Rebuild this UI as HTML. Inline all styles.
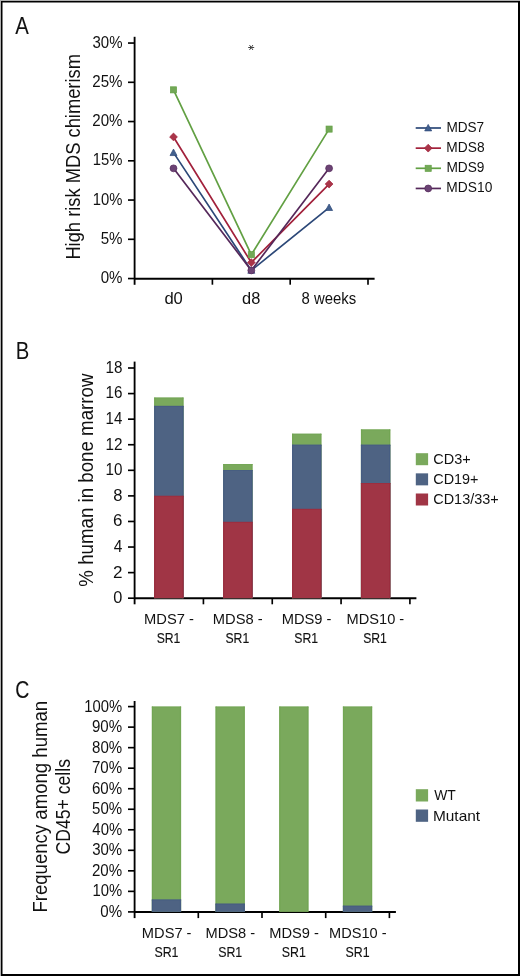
<!DOCTYPE html>
<html><head><meta charset="utf-8"><style>
html,body{margin:0;padding:0;background:#fff;}
svg{display:block;font-family:"Liberation Sans", sans-serif;will-change:transform;}
text{fill:#111;}
</style></head><body>
<svg width="520" height="976" viewBox="0 0 520 976">
<rect x="0.00" y="0.00" width="520.00" height="976.00" fill="#b0b0b0"/>
<rect x="1.00" y="1.00" width="519.00" height="975.00" fill="#000"/>
<rect x="2.50" y="2.50" width="515.50" height="971.50" fill="#fff"/>
<text x="15.16" y="34.40" font-size="23.7" textLength="13.58" lengthAdjust="spacingAndGlyphs" stroke="#111" stroke-width="0.05">A</text>
<line x1="134.60" y1="36.80" x2="134.60" y2="284.80" stroke="#000" stroke-width="1.85" stroke-linecap="butt"/>
<line x1="128.00" y1="278.55" x2="134.60" y2="278.55" stroke="#000" stroke-width="1.65" stroke-linecap="butt"/>
<text x="100.71" y="283.15" font-size="15.8" textLength="21.82" lengthAdjust="spacingAndGlyphs">0%</text>
<line x1="128.00" y1="239.30" x2="134.60" y2="239.30" stroke="#000" stroke-width="1.65" stroke-linecap="butt"/>
<text x="100.70" y="243.90" font-size="15.8" textLength="21.84" lengthAdjust="spacingAndGlyphs">5%</text>
<line x1="128.00" y1="200.05" x2="134.60" y2="200.05" stroke="#000" stroke-width="1.65" stroke-linecap="butt"/>
<text x="92.87" y="204.65" font-size="15.8" textLength="29.65" lengthAdjust="spacingAndGlyphs">10%</text>
<line x1="128.00" y1="160.80" x2="134.60" y2="160.80" stroke="#000" stroke-width="1.65" stroke-linecap="butt"/>
<text x="92.87" y="165.40" font-size="15.8" textLength="29.65" lengthAdjust="spacingAndGlyphs">15%</text>
<line x1="128.00" y1="121.55" x2="134.60" y2="121.55" stroke="#000" stroke-width="1.65" stroke-linecap="butt"/>
<text x="92.35" y="126.15" font-size="15.8" textLength="30.19" lengthAdjust="spacingAndGlyphs">20%</text>
<line x1="128.00" y1="82.30" x2="134.60" y2="82.30" stroke="#000" stroke-width="1.65" stroke-linecap="butt"/>
<text x="92.35" y="86.90" font-size="15.8" textLength="30.19" lengthAdjust="spacingAndGlyphs">25%</text>
<line x1="128.00" y1="43.05" x2="134.60" y2="43.05" stroke="#000" stroke-width="1.65" stroke-linecap="butt"/>
<text x="92.53" y="47.65" font-size="15.8" textLength="30.00" lengthAdjust="spacingAndGlyphs">30%</text>
<line x1="134.60" y1="278.70" x2="374.60" y2="278.70" stroke="#000" stroke-width="2.0" stroke-linecap="butt"/>
<line x1="212.40" y1="278.55" x2="212.40" y2="284.70" stroke="#000" stroke-width="1.65" stroke-linecap="butt"/>
<line x1="290.20" y1="278.55" x2="290.20" y2="284.70" stroke="#000" stroke-width="1.65" stroke-linecap="butt"/>
<line x1="368.00" y1="278.55" x2="368.00" y2="284.70" stroke="#000" stroke-width="1.65" stroke-linecap="butt"/>
<text x="164.40" y="304.20" font-size="16" textLength="18.45" lengthAdjust="spacingAndGlyphs">d0</text>
<text x="242.11" y="304.20" font-size="16" textLength="18.20" lengthAdjust="spacingAndGlyphs">d8</text>
<text x="301.46" y="304.20" font-size="16" textLength="54.68" lengthAdjust="spacingAndGlyphs">8 weeks</text>
<text transform="translate(79.80,259.60) rotate(-90)" x="0" y="0" font-size="19.5" textLength="205.51" lengthAdjust="spacingAndGlyphs">High risk MDS chimerism</text>
<line x1="248.20" y1="47.50" x2="254.20" y2="47.50" stroke="#444" stroke-width="1.0" stroke-linecap="butt"/>
<line x1="249.48" y1="45.04" x2="252.92" y2="49.96" stroke="#444" stroke-width="1.0" stroke-linecap="butt"/>
<line x1="249.48" y1="49.96" x2="252.92" y2="45.04" stroke="#444" stroke-width="1.0" stroke-linecap="butt"/>
<polyline points="173.50,152.65 251.30,270.40 329.10,207.60" fill="none" stroke="#2C4878" stroke-width="1.7" stroke-linejoin="round"/>
<polygon points="173.50,149.05 177.00,155.55 170.00,155.55" fill="#42608E" stroke="#2C4878" stroke-width="0.7" stroke-linejoin="miter"/>
<polygon points="251.30,266.80 254.80,273.30 247.80,273.30" fill="#42608E" stroke="#2C4878" stroke-width="0.7" stroke-linejoin="miter"/>
<polygon points="329.10,204.00 332.60,210.50 325.60,210.50" fill="#42608E" stroke="#2C4878" stroke-width="0.7" stroke-linejoin="miter"/>
<polyline points="173.50,136.95 251.30,262.55 329.10,184.05" fill="none" stroke="#A2213B" stroke-width="1.7" stroke-linejoin="round"/>
<polygon points="173.50,133.05 177.40,136.95 173.50,140.85 169.60,136.95" fill="#A93549" stroke="#A2213B" stroke-width="0.7" stroke-linejoin="miter"/>
<polygon points="251.30,258.65 255.20,262.55 251.30,266.45 247.40,262.55" fill="#A93549" stroke="#A2213B" stroke-width="0.7" stroke-linejoin="miter"/>
<polygon points="329.10,180.15 333.00,184.05 329.10,187.95 325.20,184.05" fill="#A93549" stroke="#A2213B" stroke-width="0.7" stroke-linejoin="miter"/>
<polyline points="173.50,89.85 251.30,254.70 329.10,129.10" fill="none" stroke="#62A043" stroke-width="1.7" stroke-linejoin="round"/>
<rect x="170.45" y="86.80" width="6.1" height="6.1" fill="#73A857" stroke="#62A043" stroke-width="0.7" stroke-linejoin="miter"/>
<rect x="248.25" y="251.65" width="6.1" height="6.1" fill="#73A857" stroke="#62A043" stroke-width="0.7" stroke-linejoin="miter"/>
<rect x="326.05" y="126.05" width="6.1" height="6.1" fill="#73A857" stroke="#62A043" stroke-width="0.7" stroke-linejoin="miter"/>
<polyline points="173.50,168.35 251.30,270.40 329.10,168.35" fill="none" stroke="#55285A" stroke-width="1.7" stroke-linejoin="round"/>
<circle cx="173.50" cy="168.35" r="3.45" fill="#6B4374" stroke="#55285A" stroke-width="0.7" stroke-linejoin="miter"/>
<circle cx="251.30" cy="270.40" r="3.45" fill="#6B4374" stroke="#55285A" stroke-width="0.7" stroke-linejoin="miter"/>
<circle cx="329.10" cy="168.35" r="3.45" fill="#6B4374" stroke="#55285A" stroke-width="0.7" stroke-linejoin="miter"/>
<line x1="415.70" y1="128.00" x2="441.00" y2="128.00" stroke="#2C4878" stroke-width="1.7" stroke-linecap="butt"/>
<polygon points="428.20,124.40 431.70,130.90 424.70,130.90" fill="#42608E" stroke="#2C4878" stroke-width="0.7" stroke-linejoin="miter"/>
<text x="446.38" y="131.80" font-size="15" textLength="37.80" lengthAdjust="spacingAndGlyphs">MDS7</text>
<line x1="415.70" y1="148.15" x2="441.00" y2="148.15" stroke="#A2213B" stroke-width="1.7" stroke-linecap="butt"/>
<polygon points="428.20,144.25 432.10,148.15 428.20,152.05 424.30,148.15" fill="#A93549" stroke="#A2213B" stroke-width="0.7" stroke-linejoin="miter"/>
<text x="446.37" y="151.80" font-size="15" textLength="38.22" lengthAdjust="spacingAndGlyphs">MDS8</text>
<line x1="415.70" y1="168.30" x2="441.00" y2="168.30" stroke="#62A043" stroke-width="1.7" stroke-linecap="butt"/>
<rect x="425.15" y="165.25" width="6.1" height="6.1" fill="#73A857" stroke="#62A043" stroke-width="0.7" stroke-linejoin="miter"/>
<text x="446.38" y="171.90" font-size="15" textLength="38.07" lengthAdjust="spacingAndGlyphs">MDS9</text>
<line x1="415.70" y1="188.45" x2="441.00" y2="188.45" stroke="#55285A" stroke-width="1.7" stroke-linecap="butt"/>
<circle cx="428.20" cy="188.45" r="3.45" fill="#6B4374" stroke="#55285A" stroke-width="0.7" stroke-linejoin="miter"/>
<text x="446.37" y="192.10" font-size="15" textLength="45.98" lengthAdjust="spacingAndGlyphs">MDS10</text>
<text x="15.64" y="358.80" font-size="23.1" textLength="13.54" lengthAdjust="spacingAndGlyphs" stroke="#111" stroke-width="0.00">B</text>
<line x1="134.60" y1="361.60" x2="134.60" y2="604.30" stroke="#000" stroke-width="1.85" stroke-linecap="butt"/>
<line x1="128.00" y1="598.20" x2="134.60" y2="598.20" stroke="#000" stroke-width="1.65" stroke-linecap="butt"/>
<text x="113.36" y="603.10" font-size="16" textLength="9.08" lengthAdjust="spacingAndGlyphs">0</text>
<line x1="128.00" y1="572.62" x2="134.60" y2="572.62" stroke="#000" stroke-width="1.65" stroke-linecap="butt"/>
<text x="113.14" y="577.52" font-size="16" textLength="9.51" lengthAdjust="spacingAndGlyphs">2</text>
<line x1="128.00" y1="547.04" x2="134.60" y2="547.04" stroke="#000" stroke-width="1.65" stroke-linecap="butt"/>
<text x="113.64" y="551.94" font-size="16" textLength="8.61" lengthAdjust="spacingAndGlyphs">4</text>
<line x1="128.00" y1="521.47" x2="134.60" y2="521.47" stroke="#000" stroke-width="1.65" stroke-linecap="butt"/>
<text x="113.14" y="526.37" font-size="16" textLength="9.41" lengthAdjust="spacingAndGlyphs">6</text>
<line x1="128.00" y1="495.89" x2="134.60" y2="495.89" stroke="#000" stroke-width="1.65" stroke-linecap="butt"/>
<text x="113.29" y="500.79" font-size="16" textLength="9.23" lengthAdjust="spacingAndGlyphs">8</text>
<line x1="128.00" y1="470.31" x2="134.60" y2="470.31" stroke="#000" stroke-width="1.65" stroke-linecap="butt"/>
<text x="105.55" y="475.21" font-size="16" textLength="16.85" lengthAdjust="spacingAndGlyphs">10</text>
<line x1="128.00" y1="444.73" x2="134.60" y2="444.73" stroke="#000" stroke-width="1.65" stroke-linecap="butt"/>
<text x="105.54" y="449.63" font-size="16" textLength="17.03" lengthAdjust="spacingAndGlyphs">12</text>
<line x1="128.00" y1="419.16" x2="134.60" y2="419.16" stroke="#000" stroke-width="1.65" stroke-linecap="butt"/>
<text x="105.56" y="424.06" font-size="16" textLength="16.68" lengthAdjust="spacingAndGlyphs">14</text>
<line x1="128.00" y1="393.58" x2="134.60" y2="393.58" stroke="#000" stroke-width="1.65" stroke-linecap="butt"/>
<text x="105.54" y="398.48" font-size="16" textLength="16.93" lengthAdjust="spacingAndGlyphs">16</text>
<line x1="128.00" y1="368.00" x2="134.60" y2="368.00" stroke="#000" stroke-width="1.65" stroke-linecap="butt"/>
<text x="105.54" y="372.90" font-size="16" textLength="16.91" lengthAdjust="spacingAndGlyphs">18</text>
<line x1="134.60" y1="598.20" x2="416.40" y2="598.20" stroke="#000" stroke-width="2.0" stroke-linecap="butt"/>
<line x1="203.42" y1="598.20" x2="203.42" y2="604.30" stroke="#000" stroke-width="1.65" stroke-linecap="butt"/>
<line x1="272.25" y1="598.20" x2="272.25" y2="604.30" stroke="#000" stroke-width="1.65" stroke-linecap="butt"/>
<line x1="341.07" y1="598.20" x2="341.07" y2="604.30" stroke="#000" stroke-width="1.65" stroke-linecap="butt"/>
<line x1="409.90" y1="598.20" x2="409.90" y2="604.30" stroke="#000" stroke-width="1.65" stroke-linecap="butt"/>
<rect x="154.10" y="397.60" width="29.50" height="200.60" fill="#7AA95C"/>
<rect x="154.40" y="397.60" width="1.00" height="200.60" fill="#72A553"/>
<rect x="182.30" y="397.60" width="1.00" height="200.60" fill="#72A553"/>
<rect x="154.10" y="397.60" width="29.50" height="0.80" fill="#72A553"/>
<rect x="154.10" y="405.90" width="29.50" height="192.30" fill="#4E6383"/>
<rect x="154.40" y="405.90" width="1.00" height="192.30" fill="#465C82"/>
<rect x="182.30" y="405.90" width="1.00" height="192.30" fill="#465C82"/>
<rect x="154.10" y="405.90" width="29.50" height="0.80" fill="#465C82"/>
<rect x="154.10" y="495.85" width="29.50" height="102.35" fill="#A03545"/>
<rect x="154.40" y="495.85" width="1.00" height="102.35" fill="#9B2D3E"/>
<rect x="182.30" y="495.85" width="1.00" height="102.35" fill="#9B2D3E"/>
<rect x="154.10" y="495.85" width="29.50" height="0.80" fill="#9B2D3E"/>
<rect x="223.10" y="464.10" width="29.50" height="134.10" fill="#7AA95C"/>
<rect x="223.40" y="464.10" width="1.00" height="134.10" fill="#72A553"/>
<rect x="251.30" y="464.10" width="1.00" height="134.10" fill="#72A553"/>
<rect x="223.10" y="464.10" width="29.50" height="0.80" fill="#72A553"/>
<rect x="223.10" y="470.10" width="29.50" height="128.10" fill="#4E6383"/>
<rect x="223.40" y="470.10" width="1.00" height="128.10" fill="#465C82"/>
<rect x="251.30" y="470.10" width="1.00" height="128.10" fill="#465C82"/>
<rect x="223.10" y="470.10" width="29.50" height="0.80" fill="#465C82"/>
<rect x="223.10" y="521.90" width="29.50" height="76.30" fill="#A03545"/>
<rect x="223.40" y="521.90" width="1.00" height="76.30" fill="#9B2D3E"/>
<rect x="251.30" y="521.90" width="1.00" height="76.30" fill="#9B2D3E"/>
<rect x="223.10" y="521.90" width="29.50" height="0.80" fill="#9B2D3E"/>
<rect x="292.00" y="433.75" width="29.50" height="164.45" fill="#7AA95C"/>
<rect x="292.30" y="433.75" width="1.00" height="164.45" fill="#72A553"/>
<rect x="320.20" y="433.75" width="1.00" height="164.45" fill="#72A553"/>
<rect x="292.00" y="433.75" width="29.50" height="0.80" fill="#72A553"/>
<rect x="292.00" y="444.75" width="29.50" height="153.45" fill="#4E6383"/>
<rect x="292.30" y="444.75" width="1.00" height="153.45" fill="#465C82"/>
<rect x="320.20" y="444.75" width="1.00" height="153.45" fill="#465C82"/>
<rect x="292.00" y="444.75" width="29.50" height="0.80" fill="#465C82"/>
<rect x="292.00" y="508.90" width="29.50" height="89.30" fill="#A03545"/>
<rect x="292.30" y="508.90" width="1.00" height="89.30" fill="#9B2D3E"/>
<rect x="320.20" y="508.90" width="1.00" height="89.30" fill="#9B2D3E"/>
<rect x="292.00" y="508.90" width="29.50" height="0.80" fill="#9B2D3E"/>
<rect x="360.90" y="429.50" width="29.50" height="168.70" fill="#7AA95C"/>
<rect x="361.20" y="429.50" width="1.00" height="168.70" fill="#72A553"/>
<rect x="389.10" y="429.50" width="1.00" height="168.70" fill="#72A553"/>
<rect x="360.90" y="429.50" width="29.50" height="0.80" fill="#72A553"/>
<rect x="360.90" y="444.75" width="29.50" height="153.45" fill="#4E6383"/>
<rect x="361.20" y="444.75" width="1.00" height="153.45" fill="#465C82"/>
<rect x="389.10" y="444.75" width="1.00" height="153.45" fill="#465C82"/>
<rect x="360.90" y="444.75" width="29.50" height="0.80" fill="#465C82"/>
<rect x="360.90" y="483.00" width="29.50" height="115.20" fill="#A03545"/>
<rect x="361.20" y="483.00" width="1.00" height="115.20" fill="#9B2D3E"/>
<rect x="389.10" y="483.00" width="1.00" height="115.20" fill="#9B2D3E"/>
<rect x="360.90" y="483.00" width="29.50" height="0.80" fill="#9B2D3E"/>
<text x="144.01" y="623.60" font-size="15.1" textLength="49.86" lengthAdjust="spacingAndGlyphs">MDS7 -</text>
<text x="156.65" y="643.30" font-size="15.1" textLength="23.76" lengthAdjust="spacingAndGlyphs" stroke="#111" stroke-width="0.16">SR1</text>
<text x="212.83" y="623.60" font-size="15.1" textLength="49.86" lengthAdjust="spacingAndGlyphs">MDS8 -</text>
<text x="225.48" y="643.30" font-size="15.1" textLength="23.76" lengthAdjust="spacingAndGlyphs" stroke="#111" stroke-width="0.16">SR1</text>
<text x="281.66" y="623.60" font-size="15.1" textLength="49.86" lengthAdjust="spacingAndGlyphs">MDS9 -</text>
<text x="294.30" y="643.30" font-size="15.1" textLength="23.76" lengthAdjust="spacingAndGlyphs" stroke="#111" stroke-width="0.16">SR1</text>
<text x="346.59" y="623.60" font-size="15.1" textLength="57.65" lengthAdjust="spacingAndGlyphs">MDS10 -</text>
<text x="363.13" y="643.30" font-size="15.1" textLength="23.76" lengthAdjust="spacingAndGlyphs" stroke="#111" stroke-width="0.16">SR1</text>
<text transform="translate(93.00,586.67) rotate(-90)" x="0" y="0" font-size="19.5" textLength="213.15" lengthAdjust="spacingAndGlyphs">% human in bone marrow</text>
<rect x="415.80" y="453.20" width="12.30" height="12.00" fill="#7AA95C"/>
<text x="433.26" y="464.00" font-size="14.8" textLength="37.44" lengthAdjust="spacingAndGlyphs">CD3+</text>
<rect x="415.80" y="473.35" width="12.30" height="12.00" fill="#4E6383"/>
<text x="433.27" y="484.10" font-size="14.8" textLength="45.24" lengthAdjust="spacingAndGlyphs">CD19+</text>
<rect x="415.80" y="493.50" width="12.30" height="12.00" fill="#A03545"/>
<text x="433.26" y="504.20" font-size="14.8" textLength="65.44" lengthAdjust="spacingAndGlyphs">CD13/33+</text>
<text x="15.21" y="698.00" font-size="23.0" textLength="14.03" lengthAdjust="spacingAndGlyphs" stroke="#111" stroke-width="0.08">C</text>
<line x1="134.60" y1="701.00" x2="134.60" y2="918.10" stroke="#000" stroke-width="1.85" stroke-linecap="butt"/>
<line x1="128.00" y1="911.90" x2="134.60" y2="911.90" stroke="#000" stroke-width="1.65" stroke-linecap="butt"/>
<text x="100.31" y="916.90" font-size="16" textLength="21.82" lengthAdjust="spacingAndGlyphs">0%</text>
<line x1="128.00" y1="891.37" x2="134.60" y2="891.37" stroke="#000" stroke-width="1.65" stroke-linecap="butt"/>
<text x="92.47" y="896.37" font-size="16" textLength="29.65" lengthAdjust="spacingAndGlyphs">10%</text>
<line x1="128.00" y1="870.84" x2="134.60" y2="870.84" stroke="#000" stroke-width="1.65" stroke-linecap="butt"/>
<text x="91.95" y="875.84" font-size="16" textLength="30.19" lengthAdjust="spacingAndGlyphs">20%</text>
<line x1="128.00" y1="850.31" x2="134.60" y2="850.31" stroke="#000" stroke-width="1.65" stroke-linecap="butt"/>
<text x="92.13" y="855.31" font-size="16" textLength="30.00" lengthAdjust="spacingAndGlyphs">30%</text>
<line x1="128.00" y1="829.78" x2="134.60" y2="829.78" stroke="#000" stroke-width="1.65" stroke-linecap="butt"/>
<text x="92.36" y="834.78" font-size="16" textLength="29.77" lengthAdjust="spacingAndGlyphs">40%</text>
<line x1="128.00" y1="809.25" x2="134.60" y2="809.25" stroke="#000" stroke-width="1.65" stroke-linecap="butt"/>
<text x="92.10" y="814.25" font-size="16" textLength="30.03" lengthAdjust="spacingAndGlyphs">50%</text>
<line x1="128.00" y1="788.72" x2="134.60" y2="788.72" stroke="#000" stroke-width="1.65" stroke-linecap="butt"/>
<text x="91.93" y="793.72" font-size="16" textLength="30.20" lengthAdjust="spacingAndGlyphs">60%</text>
<line x1="128.00" y1="768.19" x2="134.60" y2="768.19" stroke="#000" stroke-width="1.65" stroke-linecap="butt"/>
<text x="91.93" y="773.19" font-size="16" textLength="30.20" lengthAdjust="spacingAndGlyphs">70%</text>
<line x1="128.00" y1="747.66" x2="134.60" y2="747.66" stroke="#000" stroke-width="1.65" stroke-linecap="butt"/>
<text x="92.05" y="752.66" font-size="16" textLength="30.08" lengthAdjust="spacingAndGlyphs">80%</text>
<line x1="128.00" y1="727.13" x2="134.60" y2="727.13" stroke="#000" stroke-width="1.65" stroke-linecap="butt"/>
<text x="91.99" y="732.13" font-size="16" textLength="30.14" lengthAdjust="spacingAndGlyphs">90%</text>
<line x1="128.00" y1="706.60" x2="134.60" y2="706.60" stroke="#000" stroke-width="1.65" stroke-linecap="butt"/>
<text x="84.28" y="711.60" font-size="16" textLength="37.85" lengthAdjust="spacingAndGlyphs">100%</text>
<line x1="134.60" y1="911.90" x2="395.90" y2="911.90" stroke="#000" stroke-width="2.0" stroke-linecap="butt"/>
<line x1="198.30" y1="911.90" x2="198.30" y2="918.10" stroke="#000" stroke-width="1.65" stroke-linecap="butt"/>
<line x1="262.00" y1="911.90" x2="262.00" y2="918.10" stroke="#000" stroke-width="1.65" stroke-linecap="butt"/>
<line x1="325.70" y1="911.90" x2="325.70" y2="918.10" stroke="#000" stroke-width="1.65" stroke-linecap="butt"/>
<line x1="389.40" y1="911.90" x2="389.40" y2="918.10" stroke="#000" stroke-width="1.65" stroke-linecap="butt"/>
<rect x="151.75" y="706.60" width="29.40" height="205.30" fill="#7AA95C"/>
<rect x="152.05" y="706.60" width="1.00" height="205.30" fill="#72A553"/>
<rect x="179.85" y="706.60" width="1.00" height="205.30" fill="#72A553"/>
<rect x="151.75" y="706.60" width="29.40" height="0.80" fill="#72A553"/>
<rect x="151.75" y="899.58" width="29.40" height="12.32" fill="#4E6383"/>
<rect x="152.05" y="899.58" width="1.00" height="12.32" fill="#465C82"/>
<rect x="179.85" y="899.58" width="1.00" height="12.32" fill="#465C82"/>
<rect x="151.75" y="899.58" width="29.40" height="0.80" fill="#465C82"/>
<rect x="215.45" y="706.60" width="29.40" height="205.30" fill="#7AA95C"/>
<rect x="215.75" y="706.60" width="1.00" height="205.30" fill="#72A553"/>
<rect x="243.55" y="706.60" width="1.00" height="205.30" fill="#72A553"/>
<rect x="215.45" y="706.60" width="29.40" height="0.80" fill="#72A553"/>
<rect x="215.45" y="903.69" width="29.40" height="8.21" fill="#4E6383"/>
<rect x="215.75" y="903.69" width="1.00" height="8.21" fill="#465C82"/>
<rect x="243.55" y="903.69" width="1.00" height="8.21" fill="#465C82"/>
<rect x="215.45" y="903.69" width="29.40" height="0.80" fill="#465C82"/>
<rect x="279.15" y="706.60" width="29.40" height="205.30" fill="#7AA95C"/>
<rect x="279.45" y="706.60" width="1.00" height="205.30" fill="#72A553"/>
<rect x="307.25" y="706.60" width="1.00" height="205.30" fill="#72A553"/>
<rect x="279.15" y="706.60" width="29.40" height="0.80" fill="#72A553"/>
<rect x="342.85" y="706.60" width="29.40" height="205.30" fill="#7AA95C"/>
<rect x="343.15" y="706.60" width="1.00" height="205.30" fill="#72A553"/>
<rect x="370.95" y="706.60" width="1.00" height="205.30" fill="#72A553"/>
<rect x="342.85" y="706.60" width="29.40" height="0.80" fill="#72A553"/>
<rect x="342.85" y="905.74" width="29.40" height="6.16" fill="#4E6383"/>
<rect x="343.15" y="905.74" width="1.00" height="6.16" fill="#465C82"/>
<rect x="370.95" y="905.74" width="1.00" height="6.16" fill="#465C82"/>
<rect x="342.85" y="905.74" width="29.40" height="0.80" fill="#465C82"/>
<text x="141.85" y="938.00" font-size="15.1" textLength="49.65" lengthAdjust="spacingAndGlyphs">MDS7 -</text>
<text x="154.43" y="956.90" font-size="15.1" textLength="24.08" lengthAdjust="spacingAndGlyphs" stroke="#111" stroke-width="0.13">SR1</text>
<text x="205.55" y="938.00" font-size="15.1" textLength="49.65" lengthAdjust="spacingAndGlyphs">MDS8 -</text>
<text x="218.13" y="956.90" font-size="15.1" textLength="24.08" lengthAdjust="spacingAndGlyphs" stroke="#111" stroke-width="0.13">SR1</text>
<text x="269.25" y="938.00" font-size="15.1" textLength="49.65" lengthAdjust="spacingAndGlyphs">MDS9 -</text>
<text x="281.83" y="956.90" font-size="15.1" textLength="24.08" lengthAdjust="spacingAndGlyphs" stroke="#111" stroke-width="0.13">SR1</text>
<text x="329.00" y="938.00" font-size="15.1" textLength="57.54" lengthAdjust="spacingAndGlyphs">MDS10 -</text>
<text x="345.53" y="956.90" font-size="15.1" textLength="24.08" lengthAdjust="spacingAndGlyphs" stroke="#111" stroke-width="0.13">SR1</text>
<text transform="translate(46.70,912.62) rotate(-90)" x="0" y="0" font-size="19.5" textLength="211.74" lengthAdjust="spacingAndGlyphs">Frequency among human</text>
<text transform="translate(70.00,854.40) rotate(-90)" x="0" y="0" font-size="19.5" textLength="95.33" lengthAdjust="spacingAndGlyphs">CD45+ cells</text>
<rect x="415.80" y="789.20" width="12.30" height="12.30" fill="#7AA95C"/>
<text x="434.13" y="800.30" font-size="14.8" textLength="21.58" lengthAdjust="spacingAndGlyphs">WT</text>
<rect x="415.80" y="809.50" width="12.30" height="12.30" fill="#4E6383"/>
<text x="432.93" y="820.80" font-size="14.8" textLength="47.18" lengthAdjust="spacingAndGlyphs">Mutant</text>
</svg>
</body></html>
